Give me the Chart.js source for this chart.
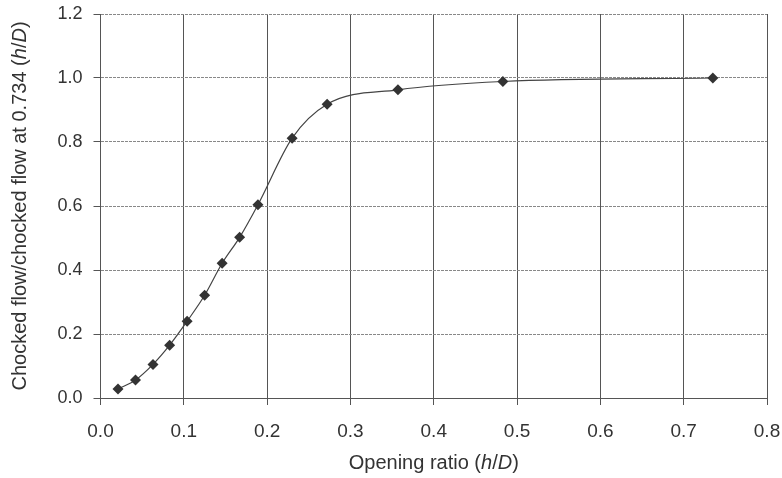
<!DOCTYPE html>
<html>
<head>
<meta charset="utf-8">
<script src="https://cdn.jsdelivr.net/npm/chart.js@4.4.0/dist/chart.umd.min.js"></script>
<style>
  html, body { margin: 0; padding: 0; background: #fff; }
  #wrap { width: 782px; height: 478px; }
</style>
</head>
<body>
<div id="wrap"><canvas id="flowChart" width="782" height="478"></canvas></div>
<script>
// data
const openingRatio = [0.021, 0.042, 0.063, 0.083, 0.104, 0.125, 0.146, 0.167, 0.189, 0.230, 0.272, 0.357, 0.483, 0.735];
const flowRatio = [0.028, 0.056, 0.105, 0.165, 0.240, 0.321, 0.421, 0.502, 0.604, 0.812, 0.918, 0.963, 0.989, 1.000];
const xTicks = [0.0, 0.1, 0.2, 0.3, 0.4, 0.5, 0.6, 0.7, 0.8];
const yTicks = [0.0, 0.2, 0.4, 0.6, 0.8, 1.0, 1.2];

const xTitle = [['Opening ratio (', false], ['h', true], ['/', false], ['D', true], [')', false]];
const yTitle = [['Chocked flow/chocked flow at 0.734 (', false], ['h', true], ['/', false], ['D', true], [')', false]];

const textColor = '#333';
const fontFamily = '"Liberation Sans", Arial, sans-serif';

var points = [];
for (var i = 0; i < openingRatio.length; i++) {
    points.push({ x: openingRatio[i], y: flowRatio[i] });
}

// draws a title made of plain and italic pieces
function drawParts(ctx, parts, size) {
    var total = 0;
    parts.forEach(function(p) {
        ctx.font = (p[1] ? 'italic ' : '') + size + 'px ' + fontFamily;
        total += ctx.measureText(p[0]).width;
    });
    var x = -total / 2;
    parts.forEach(function(p) {
        ctx.font = (p[1] ? 'italic ' : '') + size + 'px ' + fontFamily;
        ctx.fillText(p[0], x, 0);
        x += ctx.measureText(p[0]).width;
    });
}

const axisTitles = {
    id: 'axisTitles',
    afterDraw: function(chart) {
        var ctx = chart.ctx;
        var area = chart.chartArea;
        ctx.save();
        ctx.fillStyle = textColor;
        ctx.textBaseline = 'middle';
        ctx.textAlign = 'left';
        ctx.translate((area.left + area.right) / 2, 463);
        drawParts(ctx, xTitle, 20);
        ctx.restore();

        ctx.save();
        ctx.fillStyle = textColor;
        ctx.textBaseline = 'middle';
        ctx.textAlign = 'left';
        ctx.translate(20, (area.top + area.bottom) / 2);
        ctx.rotate(-Math.PI / 2);
        drawParts(ctx, yTitle, 20);
        ctx.restore();
    }
};

const config = {
    type: 'scatter',
    data: {
        datasets: [{
            label: 'Chocked flow ratio',
            data: points,
            showLine: true,
            cubicInterpolationMode: 'monotone',
            borderColor: '#444',
            borderWidth: 1.2,
            backgroundColor: '#333',
            pointStyle: 'rectRot',
            pointRadius: 5.5,
            pointBorderWidth: 0,
            pointBackgroundColor: '#333'
        }]
    },
    options: {
        responsive: false,
        animation: false,
        layout: {
            padding: { top: 14, right: 15, bottom: 0, left: 0 }
        },
        plugins: {
            legend: { display: false },
            tooltip: { enabled: false }
        },
        scales: {
            x: {
                type: 'linear',
                min: 0,
                max: 0.8,
                afterFit: function(scale) {
                    scale.height = 80;
                    scale.paddingLeft = 0;
                    scale.paddingRight = 0;
                },
                afterBuildTicks: function(scale) {
                    scale.ticks = xTicks.map(function(v) { return { value: v }; });
                },
                ticks: {
                    color: textColor,
                    font: { family: fontFamily, size: 19 },
                    padding: 15,
                    maxRotation: 0,
                    callback: function(v) { return v.toFixed(1); }
                },
                grid: {
                    color: '#555',
                    lineWidth: 1,
                    drawTicks: true,
                    tickLength: 7,
                    tickColor: '#555'
                },
                border: { display: true, color: '#555' }
            },
            y: {
                type: 'linear',
                min: 0,
                max: 1.2,
                afterFit: function(scale) {
                    scale.width = 100.5;
                    scale.paddingTop = 0;
                    scale.paddingBottom = 0;
                },
                afterBuildTicks: function(scale) {
                    scale.ticks = yTicks.map(function(v) { return { value: v }; });
                },
                ticks: {
                    color: textColor,
                    font: { family: fontFamily, size: 18 },
                    padding: 11,
                    callback: function(v) { return v.toFixed(1); }
                },
                grid: {
                    color: '#888',
                    lineWidth: 1,
                    drawTicks: true,
                    tickLength: 7,
                    tickColor: '#555'
                },
                border: { display: true, color: '#555', dash: [3, 1] }
            }
        }
    },
    plugins: [axisTitles]
};

var ctx = document.getElementById('flowChart').getContext('2d');
window.flowChart = new Chart(ctx, config);
</script>
</body>
</html>
